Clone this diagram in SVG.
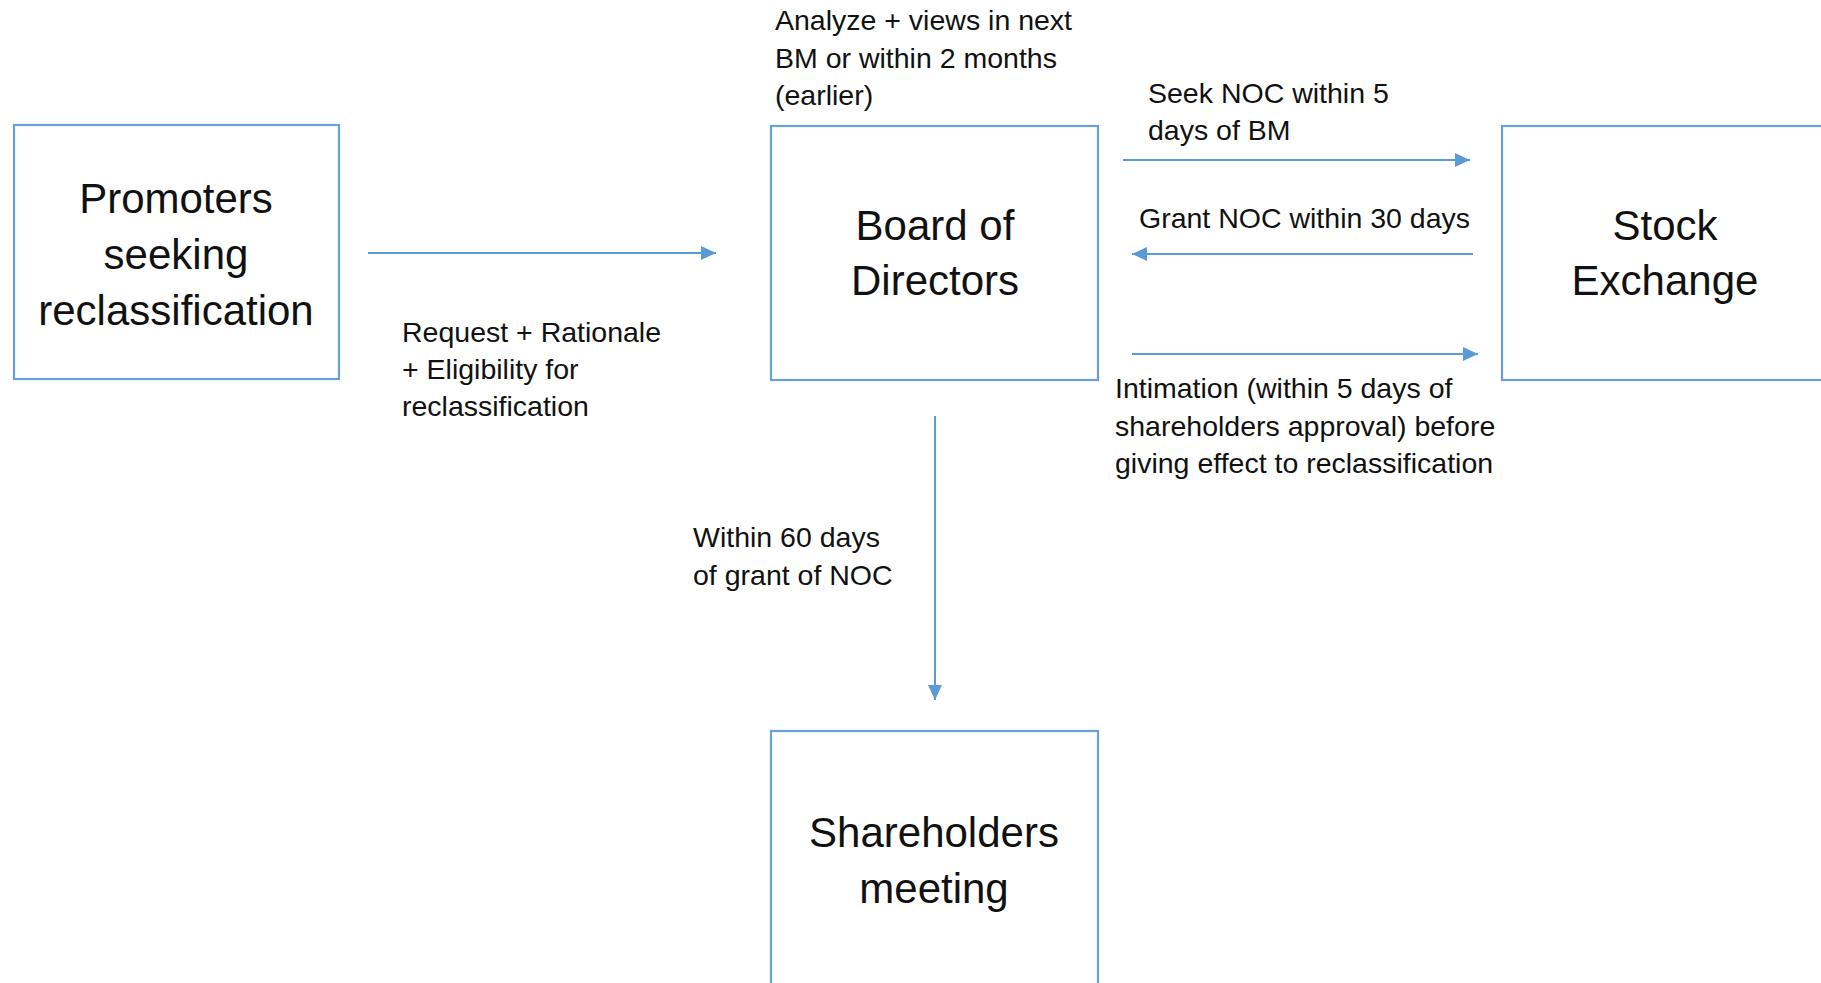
<svg xmlns="http://www.w3.org/2000/svg" width="1821" height="983" viewBox="0 0 1821 983">
<style>
.box{fill:#fff;stroke:#6A9FD8;stroke-width:2.2}
.nt{font-family:"Liberation Sans",Arial,sans-serif;font-size:42px;fill:#111;text-anchor:middle}
.lt{font-family:"Liberation Sans",Arial,sans-serif;font-size:28.5px;fill:#111}
.cn{stroke:#5B9BD5;stroke-width:2;fill:none;marker-end:url(#ah)}
</style>
<defs>
<marker id="ah" markerUnits="userSpaceOnUse" markerWidth="16" markerHeight="15" refX="15" refY="7" orient="auto">
<path d="M0,0 L15,7 L0,14 z" fill="#5B9BD5"/>
</marker>
</defs>
<rect width="1821" height="983" fill="#fff"/>
<g id="promoters">
<rect class="box" x="14" y="125" width="325" height="254"/>
<text class="nt" x="176" y="213">Promoters</text>
<text class="nt" x="176" y="269">seeking</text>
<text class="nt" x="176" y="325">reclassification</text>
</g>
<g id="board">
<rect class="box" x="771" y="126" width="327" height="254"/>
<text class="nt" x="935" y="240">Board of</text>
<text class="nt" x="935" y="295">Directors</text>
</g>
<g id="stock">
<rect class="box" x="1502" y="126" width="330" height="254"/>
<text class="nt" x="1665" y="240">Stock</text>
<text class="nt" x="1665" y="295">Exchange</text>
</g>
<g id="shareholders">
<rect class="box" x="771" y="731" width="327" height="262"/>
<text class="nt" x="934" y="847">Shareholders</text>
<text class="nt" x="934" y="903">meeting</text>
</g>
<g id="connectors">
<line class="cn" x1="368" y1="253" x2="716" y2="253"/>
<line class="cn" x1="1123" y1="160" x2="1470" y2="160"/>
<line class="cn" x1="1473" y1="254" x2="1132" y2="254"/>
<line class="cn" x1="1132" y1="354" x2="1478" y2="354"/>
<line class="cn" x1="935" y1="416" x2="935" y2="700"/>
</g>
<g id="labels">
<text class="lt" x="775" y="30">Analyze + views in next</text>
<text class="lt" x="775" y="67.5">BM or within 2 months</text>
<text class="lt" x="775" y="105">(earlier)</text>
<text class="lt" x="1148" y="103">Seek NOC within 5</text>
<text class="lt" x="1148" y="140">days of BM</text>
<text class="lt" x="1139" y="228">Grant NOC within 30 days</text>
<text class="lt" x="1115" y="398">Intimation (within 5 days of</text>
<text class="lt" x="1115" y="436">shareholders approval) before</text>
<text class="lt" x="1115" y="473">giving effect to reclassification</text>
<text class="lt" x="402" y="342">Request + Rationale</text>
<text class="lt" x="402" y="379">+ Eligibility for</text>
<text class="lt" x="402" y="416">reclassification</text>
<text class="lt" x="693" y="547">Within 60 days</text>
<text class="lt" x="693" y="585">of grant of NOC</text>
</g>
</svg>
